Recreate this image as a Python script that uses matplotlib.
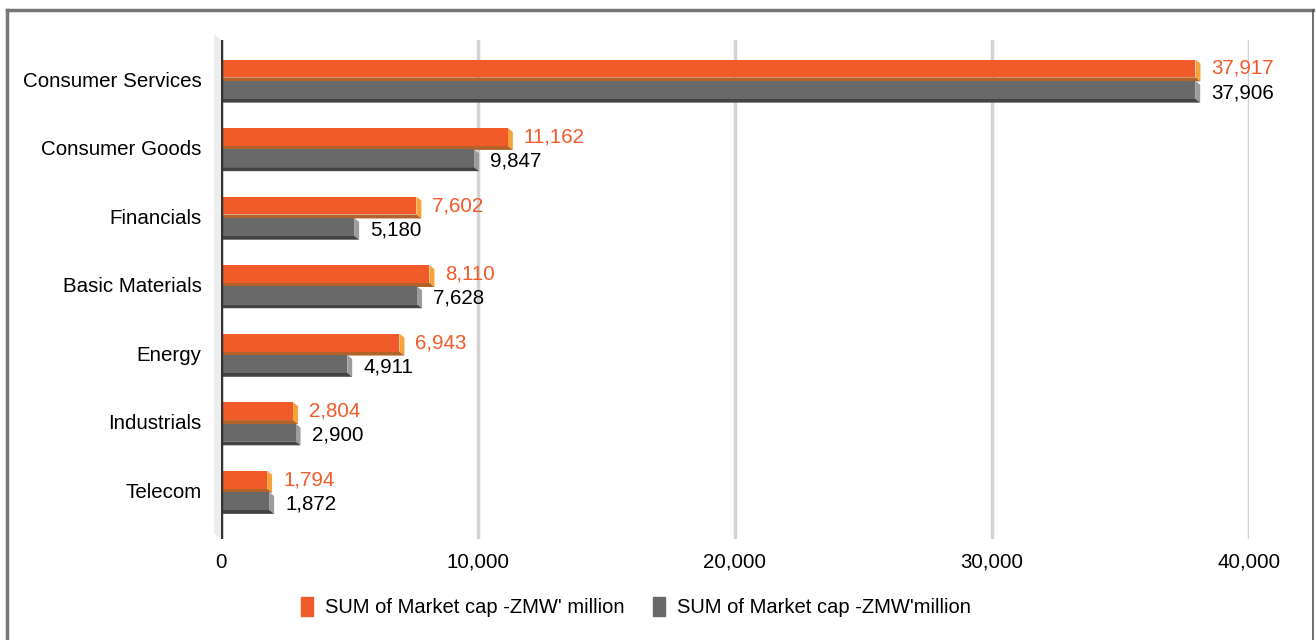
import matplotlib.pyplot as plt
from matplotlib.patches import Polygon
from matplotlib.lines import Line2D

plt.rcParams['font.family'] = ['Liberation Sans', 'DejaVu Sans']

sectors = ["Consumer Services", "Consumer Goods", "Financials", "Basic Materials",
           "Energy", "Industrials", "Telecom"]
cap_a = [37917, 11162, 7602, 8110, 6943, 2804, 1794]
cap_b = [37906, 9847, 5180, 7628, 4911, 2900, 1872]
series_names = ["SUM of Market cap -ZMW' million", "SUM of Market cap -ZMW'million"]
x_ticks = [0, 10000, 20000, 30000, 40000]

ORANGE = "#F15A29"
ORANGE_SIDE = "#F9A23C"
ORANGE_BOTTOM = "#B3622A"
GREY = "#696969"
GREY_SIDE = "#9C9C9C"
GREY_BOTTOM = "#434343"

W, H = 1316, 640
fig = plt.figure(figsize=(W / 100, H / 100), dpi=100)
fig.patch.set_facecolor("white")

# plot area in pixels: x 221..1249, y 40..539
ax = fig.add_axes([221 / W, 1 - 539 / H, 1028 / W, 499 / H])
ax.set_xlim(0, 40000)
ax.set_ylim(6.71, -0.57)
for s in ax.spines.values():
    s.set_visible(False)

px_x = 40000 / 1028       # data units per pixel, horizontal
px_y = 7.28 / 499         # data units per pixel, vertical
dx, dy = 5 * px_x, 4 * px_y

bh = 0.26
off = 0.155

# left wall
wall = Polygon([(-7 * px_x, -0.57 - 6 * px_y), (0, -0.57), (0, 6.71), (-7 * px_x, 6.71 - 6 * px_y)],
               closed=True, facecolor="#EDEDED", edgecolor="none", clip_on=False, zorder=0)
ax.add_patch(wall)

for t in x_ticks[1:]:
    ax.axvline(t, color="#D3D3D3", lw=2.5, zorder=1)
ax.axvline(0, color="#333333", lw=2.5, zorder=4)


def bar3d(y, v, face, side, bottom):
    top, bot = y - bh / 2, y + bh / 2
    ax.add_patch(Polygon([(v, top), (v + dx, top + dy), (v + dx, bot + dy), (v, bot)],
                         closed=True, facecolor=side, edgecolor="none", clip_on=False, zorder=2))
    ax.add_patch(Polygon([(0, bot), (v, bot), (v + dx, bot + dy), (0, bot + dy)],
                         closed=True, facecolor=bottom, edgecolor="none", clip_on=False, zorder=2))
    ax.barh(y, v, height=bh, color=face, zorder=3)


FS = 14.8
for i, (a, b) in enumerate(zip(cap_a, cap_b)):
    ya, yb = i - off, i + off
    bar3d(ya, a, ORANGE, ORANGE_SIDE, ORANGE_BOTTOM)
    bar3d(yb, b, GREY, GREY_SIDE, GREY_BOTTOM)
    ax.annotate(f"{a:,}", (a, ya), xytext=(16, 0), textcoords="offset pixels",
                ha="left", va="center", fontsize=FS, color=ORANGE, annotation_clip=False)
    ax.annotate(f"{b:,}", (b, yb), xytext=(16, -3), textcoords="offset pixels",
                ha="left", va="center", fontsize=FS, color="black", annotation_clip=False)

ax.set_yticks(range(len(sectors)))
ax.set_yticklabels(sectors, fontsize=FS)
ax.set_xticks(x_ticks)
ax.set_xticklabels([f"{t:,}" for t in x_ticks], fontsize=FS)
ax.tick_params(axis="y", length=0, pad=14)
ax.tick_params(axis="x", length=0, pad=10)

handles = [plt.Rectangle((0, 0), 1, 1, color=ORANGE), plt.Rectangle((0, 0), 1, 1, color=GREY)]
fig.legend(handles, series_names, loc="center", bbox_to_anchor=(636 / W, 1 - 607 / H),
           ncol=2, frameon=False, fontsize=14.5, handlelength=0.6, handleheight=1.1,
           handletextpad=0.6, columnspacing=1.4)

# outer frame
fig.add_artist(Line2D([7 / W, 7 / W], [0, 1 - 10 / H], color="#777777", lw=2.5))
fig.add_artist(Line2D([7 / W, 1313 / W], [1 - 10 / H, 1 - 10 / H], color="#777777", lw=2.5))
fig.add_artist(Line2D([1313 / W, 1313 / W], [0, 1 - 10 / H], color="#555555", lw=1.2))

fig.savefig("out.png", dpi=100)
